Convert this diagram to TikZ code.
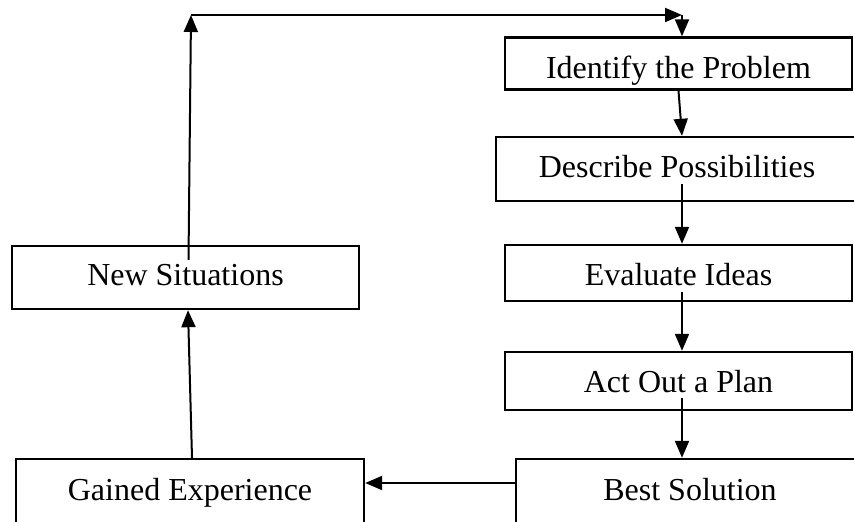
\documentclass[tikz,border=0pt]{standalone}
\usepackage{fontspec}
\setmainfont{Liberation Serif}
\usepackage{tikz}
\usetikzlibrary{arrows.meta,positioning}
\tikzset{
  block/.style={draw,rectangle,line width=2.4pt,inner sep=0pt,
    text depth=0pt,font=\fontsize{32}{36}\selectfont},
  drop/.style={text height=#1},
  flow/.style={-{Triangle[length=17pt,width=14pt]},line width=2pt},
  cycle/.style={
    x=1pt,y=-1pt,
    every node/.style={block}
  }
}
\begin{document}
\begin{tikzpicture}[cycle]
      \useasboundingbox (0,0) rectangle (854,522);
      \clip (0,0) rectangle (854,522);
      \node[drop=29pt,minimum width=347pt,minimum height=52pt] (ident) at (678.5,63.5) {Identify the Problem};
      \node[drop=17pt,minimum width=362pt,minimum height=64pt] (desc) at (677,169) {Describe Possibilities};
      \node[drop=24pt,minimum width=347pt,minimum height=56pt] (eval) at (678.5,273) {Evaluate Ideas};
      \node[drop=22pt,minimum width=347pt,minimum height=58pt] (act) at (678.5,381) {Act Out a Plan};
      \node[drop=15pt,minimum width=348pt,minimum height=67pt] (best) at (690,492.5) {Best Solution};
      \node[drop=15pt,minimum width=347pt,minimum height=63pt] (new) at (185.5,277.5) {New Situations};
      \node[drop=15pt,minimum width=348pt,minimum height=67pt] (gained) at (190,492.5) {Gained Experience};
      \coordinate (tl) at (191,15);
      \coordinate (tr) at (682,15);
      \draw[flow] ([xshift=5pt,yshift=18pt]desc.south) -- ([xshift=3.5pt]eval.north);
      \draw[flow] ([xshift=3.5pt,yshift=10pt]eval.south) -- ([xshift=3.5pt]act.north);
      \draw[flow] ([xshift=3.5pt,yshift=13pt]act.south) -- ([xshift=-8pt]best.north);
      \draw[flow] (ident.south) -- ([xshift=5pt]desc.north);
      \draw[flow] ([yshift=9.5pt]best.west) -- ([yshift=9.5pt]gained.east);
      \draw[flow] ([xshift=2pt]gained.north) -- ([xshift=2.5pt]new.south);
      \draw[flow] ([xshift=3pt,yshift=-15pt]new.north) -- (tl);
      \draw[flow] (tl) -- (tr);
      \draw[flow] (tr) -- ([xshift=3.5pt]ident.north);
    \end{tikzpicture}
\end{document}
